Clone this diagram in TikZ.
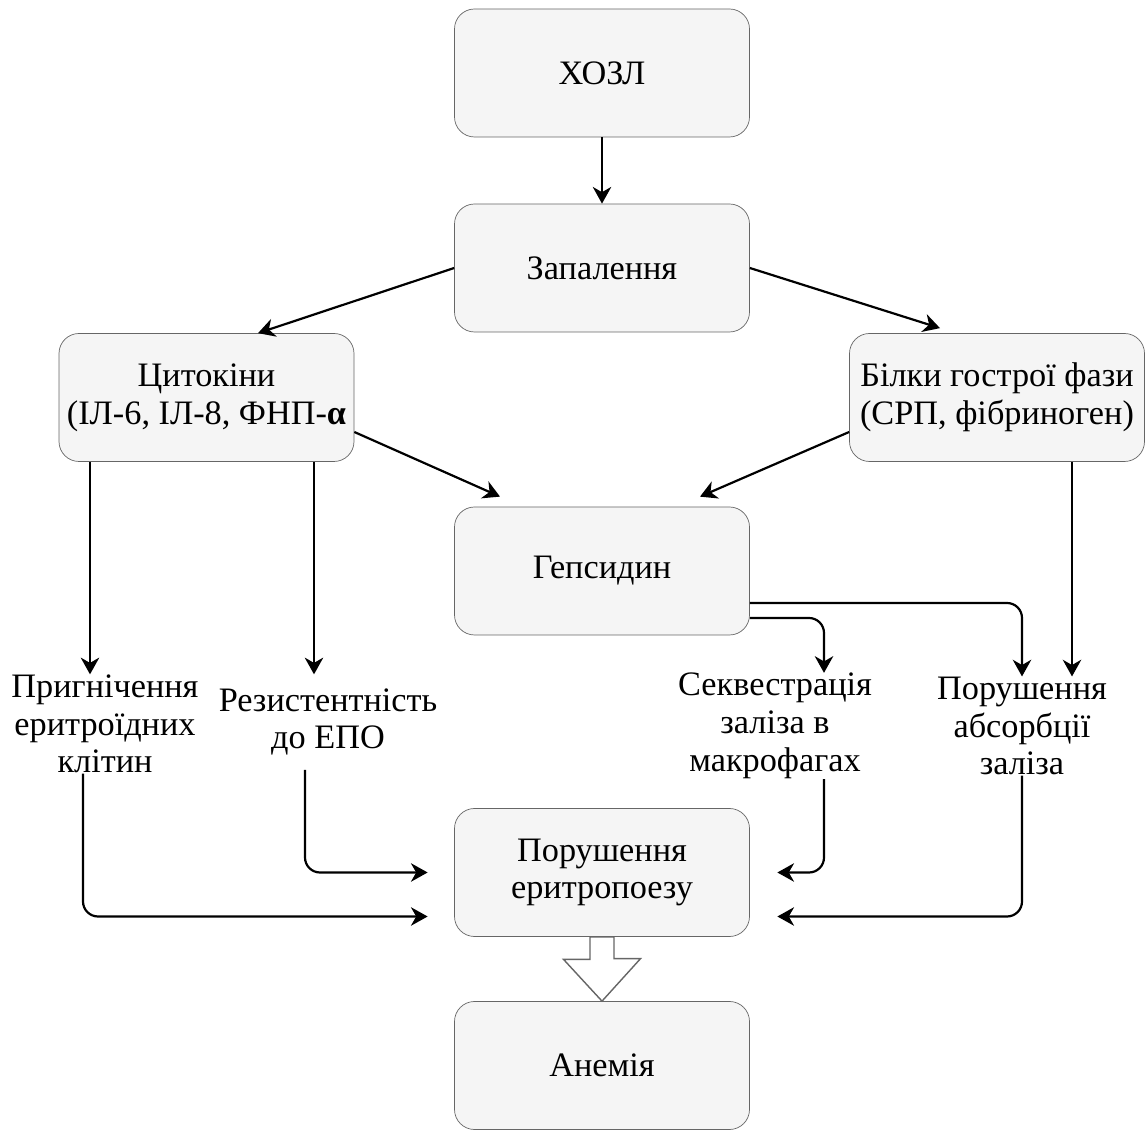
\documentclass[tikz,border=0pt]{standalone}
\usepackage{fontspec}
\setmainfont{Liberation Serif}
\usetikzlibrary{arrows.meta}
\definecolor{boxfill}{HTML}{F5F5F5}
\definecolor{boxline}{HTML}{666666}
\tikzset{
  box/.style={draw=boxline, fill=boxfill, rounded corners=0.4cm, minimum width=5.9cm,
    minimum height=2.56cm, align=center, inner sep=0pt, font=\fontsize{19.5}{21.5}\selectfont},
  lbl/.style={align=center, inner sep=0pt, minimum height=1.9cm, font=\fontsize{19.5}{21.5}\selectfont},
  arr/.style={-{Stealth[length=9.5pt,width=10.5pt,inset=3pt]}, line width=1.25pt},
  bigarr/.style={draw=boxline, fill=white, line width=0.8pt}
}

\begin{document}
\begin{tikzpicture}
\useasboundingbox (0,0) rectangle (22.92,22.6);

% 1st tier:
\node[box] (hozl) at (12.04,21.14) {ХОЗЛ};
\node[box] (zap) at (12.04,17.24) {Запалення};
\draw[arr] (hozl) -- (zap);

% 2nd tier:
\node[box] (cyt) at (4.13,14.65) {Цитокіни\\(ІЛ-6, ІЛ-8, ФНП-\textbf{α}};
\node[box] (bil) at (19.94,14.65) {Білки гострої фази\\(СРП, фібриноген)};

\draw[arr] (zap.west) -- ([xshift=1.03cm]cyt.north);
\draw[arr] (zap.east) -- ([xshift=-1.14cm,yshift=0.1cm]bil.north);

% 3rd tier:
\node[box] (hep) at (12.04,11.18) {Гепсидин};

\draw[arr] ([yshift=-0.69cm]cyt.east) -- ([xshift=-2.04cm,yshift=0.2cm]hep.north);
\draw[arr] ([yshift=-0.69cm]bil.west) -- ([xshift=1.96cm,yshift=0.2cm]hep.north);

% labels:
\node[lbl] (prg) at (2.1,8.12) {Пригнічення\\еритроїдних\\клітин};
\node[lbl] (res) at (6.56,8.16) {Резистентність\\до ЕПО};
\node[lbl] (sek) at (15.5,8.08) {Секвестрація\\заліза в\\макрофагах};
\node[lbl] (abs) at (20.44,8.08) {Порушення\\абсорбції\\заліза};

\coordinate (c1) at ([xshift=-2.33cm]cyt.south);
\coordinate (c2) at ([xshift=2.15cm]cyt.south);
\coordinate (b1) at ([xshift=1.5cm]bil.south);
\draw[arr] (c1) -- (c1 |- prg.north);
\draw[arr] (c2) -- (c2 |- prg.north);
\draw[arr] (b1) -- (b1 |- abs.north);

\draw[arr, rounded corners=0.3cm] ([yshift=-0.64cm]hep.east) -| (abs.north);
\draw[arr, rounded corners=0.3cm] ([yshift=-0.94cm]hep.east) -| ([xshift=0.98cm]sek.north);

% bottom tier:
\node[box] (eri) at (12.04,5.15) {Порушення\\еритропоезу};
\node[box] (an) at (12.04,1.29) {Анемія};

\draw[arr, rounded corners=0.3cm] ([xshift=-0.44cm]prg.south) |- ([xshift=-0.53cm,yshift=-0.88cm]eri.west);
\draw[arr, rounded corners=0.3cm] ([xshift=-0.46cm]res.south) |- ([xshift=-0.53cm]eri.west);
\draw[arr, rounded corners=0.3cm] ([xshift=0.98cm]sek.south) |- ([xshift=0.55cm]eri.east);
\draw[arr, rounded corners=0.3cm] (abs.south) |- ([xshift=0.55cm,yshift=-0.88cm]eri.east);

\draw[bigarr] ([xshift=-0.24cm]eri.south) -- ++(0,-0.45) -- ++(-0.53,0) -- (an.north)
  -- ++(0.77,0.85) -- ++(-0.53,0) -- ([xshift=0.24cm]eri.south) -- cycle;

\end{tikzpicture}
\end{document}
